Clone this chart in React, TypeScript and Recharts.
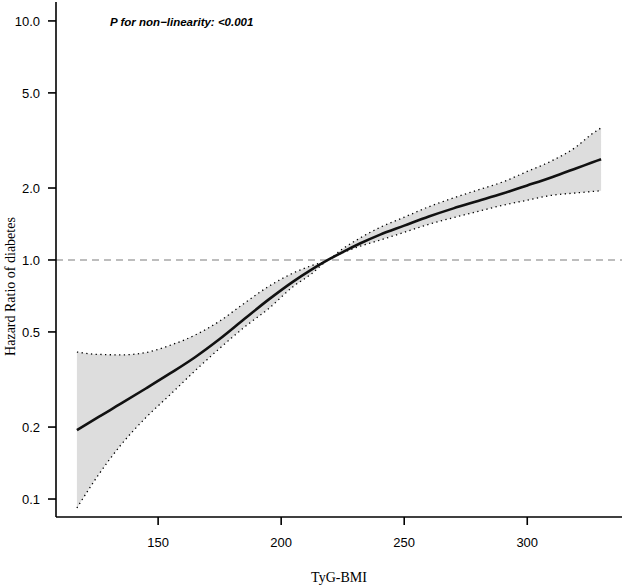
import { Area, ComposedChart, Label, Line, ReferenceLine, XAxis, YAxis } from 'recharts'

// TyG-BMI values along the fitted spline
const tygBmi = [117, 125, 135, 145, 155, 165, 175, 185, 195, 205, 212, 219, 225, 232, 240, 250, 260, 270, 280, 290, 300, 310, 320, 326, 330]
const hazardRatio = [0.194, 0.218, 0.251, 0.29, 0.336, 0.392, 0.467, 0.566, 0.684, 0.814, 0.907, 1.0, 1.079, 1.172, 1.274, 1.392, 1.52, 1.644, 1.765, 1.896, 2.05, 2.22, 2.42, 2.55, 2.64]
const ciUpper = [0.412, 0.403, 0.401, 0.41, 0.44, 0.485, 0.555, 0.659, 0.776, 0.883, 0.944, 1.0, 1.113, 1.235, 1.366, 1.51, 1.67, 1.817, 1.963, 2.12, 2.346, 2.6, 2.98, 3.35, 3.57]
const ciLower = [0.0917, 0.123, 0.169, 0.219, 0.274, 0.344, 0.427, 0.523, 0.627, 0.776, 0.87, 1.0, 1.072, 1.141, 1.209, 1.305, 1.41, 1.504, 1.596, 1.694, 1.778, 1.865, 1.908, 1.932, 1.948]

const xTicks = [150, 200, 250, 300]
const yTicks = [0.1, 0.2, 0.5, 1, 2, 5, 10]

const dados = tygBmi.map((x, i) => ({
  x,
  hr: hazardRatio[i],
  lower: ciLower[i],
  upper: ciUpper[i],
  ci: [ciLower[i], ciUpper[i]],
}))

const sans = '"Liberation Sans", Arial, sans-serif'
const serif = '"Liberation Serif", "Times New Roman", serif'
const tick = { fill: '#000', fontSize: 13, fontFamily: sans }
const eixo = { stroke: '#000', strokeWidth: 1.6 }

export default function App() {
  return (
    <div style={{ position: 'absolute', left: 0, top: 0, width: 624, height: 588, background: '#fff' }}>
      <ComposedChart width={624} height={588} data={dados} margin={{ top: 2, right: 2, bottom: 0, left: 0 }}>
        <XAxis
          dataKey="x"
          type="number"
          domain={[108.5, 338.5]}
          ticks={xTicks}
          allowDataOverflow
          height={71}
          tickSize={8}
          tickMargin={13}
          tick={tick}
          axisLine={eixo}
          tickLine={eixo}
        >
          <Label value="TyG-BMI" position="insideBottom" offset={6} style={{ fill: '#000', fontSize: 14, fontFamily: serif }} />
        </XAxis>
        <YAxis
          type="number"
          scale="log"
          domain={[0.0841, 12]}
          ticks={yTicks}
          allowDataOverflow
          width={56}
          tickSize={8}
          tickMargin={8}
          tick={tick}
          tickFormatter={(v: number) => v.toFixed(1)}
          axisLine={eixo}
          tickLine={eixo}
        >
          <Label
            value="Hazard Ratio of diabetes"
            angle={-90}
            position="center"
            dx={-18}
            dy={27}
            style={{ fill: '#000', fontSize: 14, fontFamily: serif }}
          />
        </YAxis>
        <Area dataKey="ci" type="monotone" stroke="none" fill="#dddddd" fillOpacity={1} isAnimationActive={false} activeDot={false} />
        <ReferenceLine y={1} stroke="#a8a8a8" strokeWidth={1.5} strokeDasharray="7 5" />
        <Line dataKey="upper" type="monotone" stroke="#000" strokeWidth={1.3} strokeDasharray="1.3 3.4" dot={false} activeDot={false} isAnimationActive={false} />
        <Line dataKey="lower" type="monotone" stroke="#000" strokeWidth={1.3} strokeDasharray="1.3 3.4" dot={false} activeDot={false} isAnimationActive={false} />
        <Line dataKey="hr" type="monotone" stroke="#111" strokeWidth={2.6} dot={false} activeDot={false} isAnimationActive={false} />
        <text x={110} y={25.5} fontSize={11.5} fontWeight="bold" fontStyle="italic" fontFamily={sans} fill="#000">
          P for non−linearity: &lt;0.001
        </text>
      </ComposedChart>
    </div>
  )
}
